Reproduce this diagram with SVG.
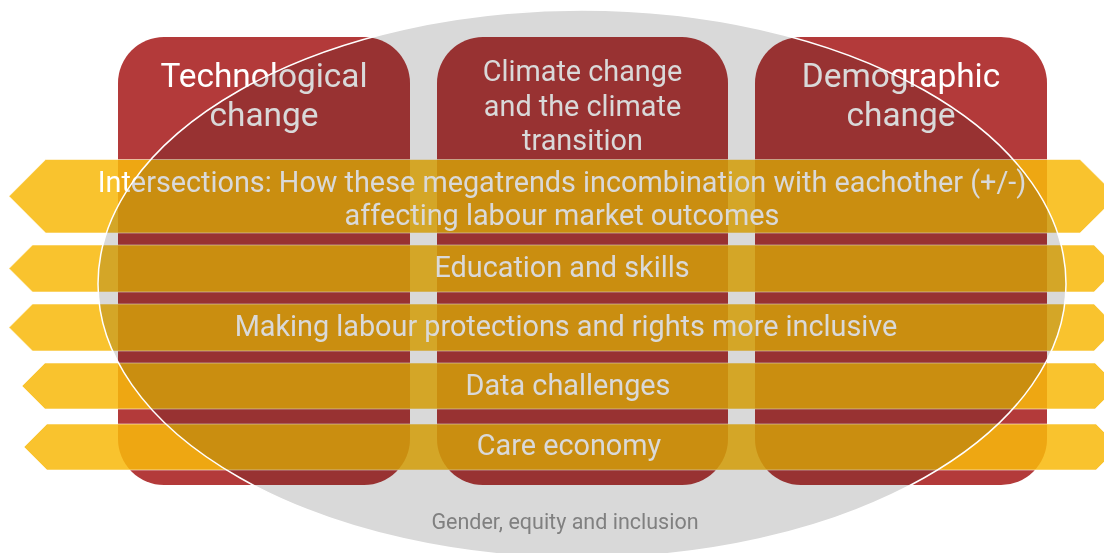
<svg xmlns="http://www.w3.org/2000/svg" width="1104" height="553" viewBox="0 0 1104 553">
  <style>
    .box { fill: #b33a3a; }
    .band { fill: #f8b90c; fill-opacity: 0.86; stroke: #ffffff; stroke-opacity: 0.55; stroke-width: 1; }
    .title { font-family: Roboto, "Liberation Sans", sans-serif; fill: #ffffff; text-anchor: middle; }
    .big { font-size: 33.4px; }
    .mid { font-size: 28.8px; }
    .shade { fill: #d9d9d9; mix-blend-mode: multiply; }
    .rim { fill: none; stroke: #ffffff; stroke-width: 1.5; }
    .caption { font-family: Roboto, "Liberation Sans", sans-serif; font-size: 21.5px; fill: #808080; text-anchor: middle; }
  </style>
  <rect x="0" y="0" width="1104" height="553" fill="#ffffff"/>

  <!-- megatrend columns -->
  <g id="technological">
    <rect class="box" x="118" y="37" width="292" height="448" rx="46" ry="46"/>
    <text class="title big" x="264" y="87">Technological</text>
    <text class="title big" x="264" y="126">change</text>
  </g>
  <g id="climate">
    <rect class="box" x="437" y="37" width="291" height="448" rx="46" ry="46"/>
    <text class="title mid" x="582.5" y="81">Climate change</text>
    <text class="title mid" x="582.5" y="116">and the climate</text>
    <text class="title mid" x="582.5" y="150">transition</text>
  </g>
  <g id="demographic">
    <rect class="box" x="755" y="37" width="292" height="448" rx="46" ry="46"/>
    <text class="title big" x="901" y="87">Demographic</text>
    <text class="title big" x="901" y="126">change</text>
  </g>

  <!-- cross-cutting bands -->
  <g id="intersections">
    <polygon class="band" points="9,196.3 45.7,159.5 1080,159.5 1117,196.3 1080,233 45.7,233"/>
    <text class="title mid" x="562" y="192">Intersections: How these megatrends incombination with eachother (+/-)</text>
    <text class="title mid" x="562" y="225">affecting labour market outcomes</text>
  </g>
  <g id="education">
    <polygon class="band" points="9,268.5 32.5,245 1094,245 1117,268.5 1094,292 32.5,292"/>
    <text class="title mid" x="562" y="277">Education and skills</text>
  </g>
  <g id="protections">
    <polygon class="band" points="9,327.5 32.5,304 1094,304 1117,327.5 1094,351 32.5,351"/>
    <text class="title mid" x="566" y="336">Making labour protections and rights more inclusive</text>
  </g>
  <g id="data">
    <polygon class="band" points="22,386 45,363 1095,363 1118,386 1095,409 45,409"/>
    <text class="title mid" x="568" y="395">Data challenges</text>
  </g>
  <g id="care">
    <polygon class="band" points="24,447 47,424 1096,424 1119,447 1096,470 47,470"/>
    <text class="title mid" x="569" y="455">Care economy</text>
  </g>

  <!-- gender, equity and inclusion lens over everything -->
  <g id="gender">
    <ellipse class="shade" cx="582" cy="284" rx="484" ry="274"/>
    <ellipse class="rim" cx="582" cy="284" rx="484" ry="274"/>
    <text class="caption" x="565" y="529">Gender, equity and inclusion</text>
  </g>
</svg>
